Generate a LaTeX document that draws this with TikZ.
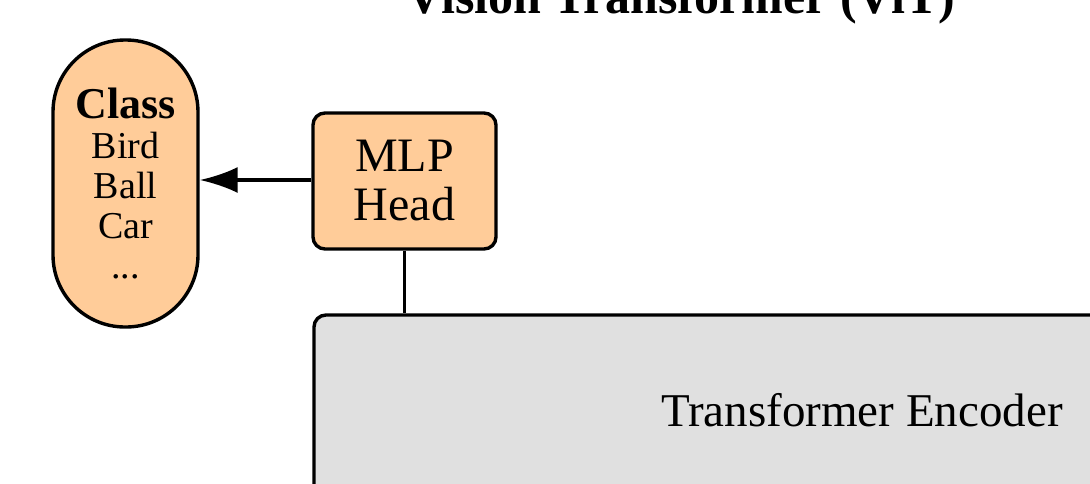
\documentclass[tikz,border=0pt]{standalone}
\usepackage{fontspec}
\setmainfont{Liberation Serif}
\usetikzlibrary{arrows.meta}
\definecolor{peach}{HTML}{FFCC99}
\definecolor{encgray}{HTML}{E0E0E0}
\begin{document}
\begin{tikzpicture}[x=0.5pt,y=-0.5pt,
  box/.style={draw=black,line width=1.7pt,inner sep=0pt},
  conn/.style={line width=1.7pt},
  arr/.style={conn,-{Latex[length=19pt,width=13pt]}}]
\clip (0,0) rectangle (1090,483);
\useasboundingbox (0,0) rectangle (1090,483);
% title
\node[anchor=base,font=\bfseries\fontsize{25}{30}\selectfont] (title) at (681,13) {Vision Transformer (ViT)};
% encoder
\node[box,fill=encgray,rounded corners=6pt,minimum width=548pt,minimum height=192.5pt] (enc) at (862,507.5) {};
\node[font=\fontsize{23.5}{28}\selectfont,anchor=base] (enctext) at (862,426) {Transformer Encoder};
% MLP head
\node[box,fill=peach,rounded corners=6pt,minimum width=91.5pt,minimum height=68pt,align=center,font=\fontsize{24}{24.5}\selectfont] (mlp) at (404.5,181) {MLP\\Head};
% class pill
\node[box,fill=peach,rounded corners=36pt,minimum width=72.5pt,minimum height=143.5pt,align=center,font=\fontsize{19}{20}\selectfont] (cls) at (125.5,183.5) {{\bfseries\fontsize{22}{20.5}\selectfont Class}\\Bird\\Ball\\Car\\...};
% connectors
\draw[arr] ([yshift=0.5pt]mlp.west) -- ([yshift=0.5pt]mlp.west -| cls.east);
\draw[conn] (mlp.south) -- (mlp.south |- enc.north);
\end{tikzpicture}
\end{document}
